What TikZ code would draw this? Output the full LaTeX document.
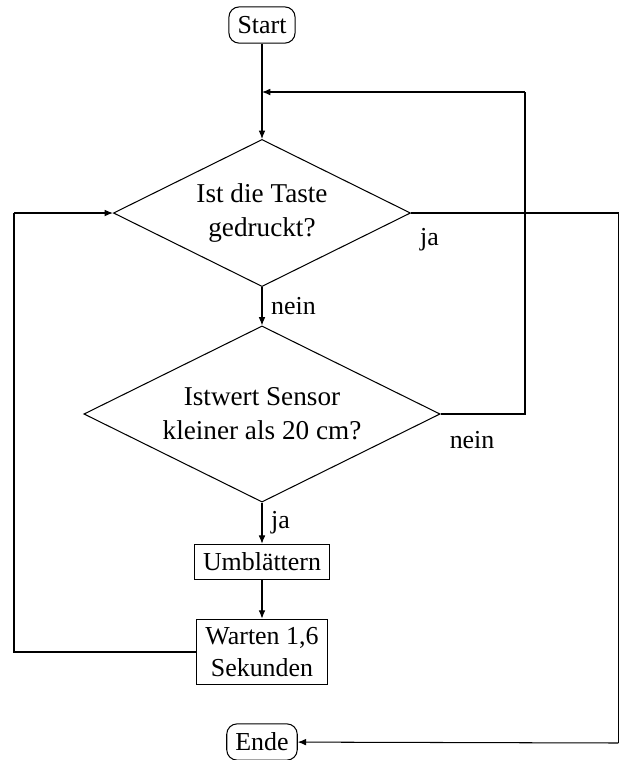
\documentclass[tikz,border=0pt]{standalone}
\usepackage{fontspec}
\setmainfont{Liberation Serif}
\usetikzlibrary{arrows.meta, positioning, shapes.geometric}

\begin{document}
\begin{tikzpicture}[x=0.386pt, y=-0.386pt,
    font=\fontsize{10}{12}\selectfont,
    pfeil/.style={-{Latex[length=3.2pt, width=2.6pt]}},
    rund/.style={draw, rounded corners=4pt, minimum height=14pt},
    kasten/.style={draw, align=center},
    frage/.style={draw, diamond, aspect=2, align=center, inner sep=0pt,
        font=\fontsize{10.5}{13.2}\selectfont}]
    \useasboundingbox (0,0) rectangle (619,760);

    % Knoten
    \node[rund] (start) at (262,25) {Start};
    \node[frage, minimum width=114.7pt, minimum height=56.8pt] (taste) at (262,213) {Ist die Taste\\gedruckt?};
    \node[frage, minimum width=137.5pt, minimum height=68pt] (sensor) at (262,414) {Istwert Sensor\\kleiner als 20 cm?};
    \node[kasten] (umbl) at (262,562) {Umblättern};
    \node[kasten] (warten) at (262,652) {Warten 1,6\\Sekunden};
    \node[rund] (ende) at (262,742) {Ende};

    % Hilfspunkte
    \coordinate (m1) at (262,92);
    \coordinate (r1) at (618.5,213);
    \coordinate (r2) at (618.5,743);
    \coordinate (n1) at (525,414);
    \coordinate (n2) at (525,92);
    \coordinate (l1) at (14,652);
    \coordinate (l2) at (14,213);

    % Verbindungen
    \draw[pfeil] (start) -- (taste);
    \draw[pfeil] (taste) -- node[right] {nein} (sensor);
    \draw[pfeil] (sensor) -- node[right] {ja} (umbl);
    \draw[pfeil] (umbl) -- (warten);
    \draw (taste.east) node[below right, yshift=-2.5pt] {ja} -- (r1) -- (r2);
    \draw[pfeil] (r2) -- (ende);
    \draw (sensor.east) node[below right, yshift=-3pt] {nein} -- (n1) -- (n2);
    \draw[pfeil] (n2) -- (m1);
    \draw (warten.west) -- (l1) -- (l2);
    \draw[pfeil] (l2) -- (taste.west);
\end{tikzpicture}
\end{document}
